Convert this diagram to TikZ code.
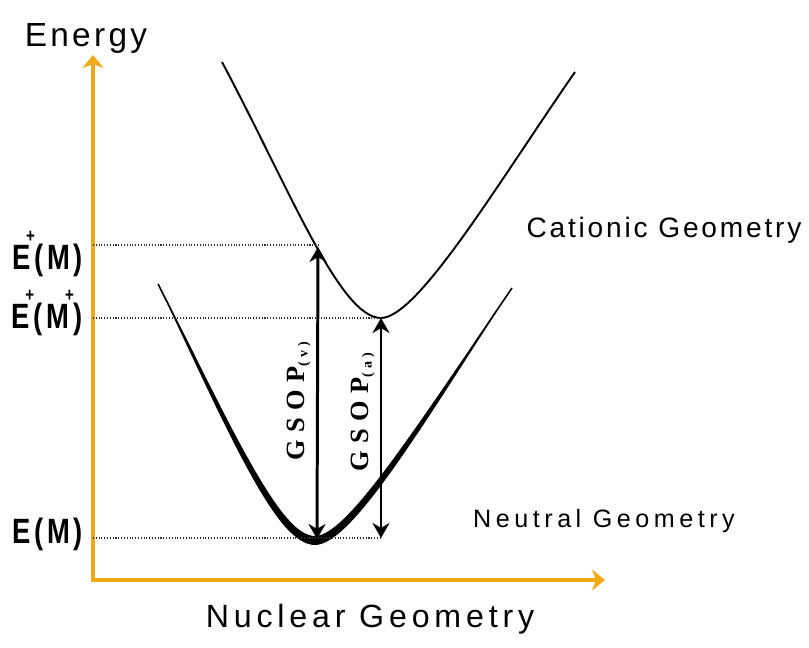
\documentclass[tikz,border=0pt]{standalone}
\usepackage{fontspec}
\setmainfont{Liberation Serif}
\newfontfamily\labelfont{Liberation Sans}
\newfontfamily\levelfont{Liberation Sans}[FakeStretch=0.78,LetterSpace=10]
\newfontfamily\gsopfont{Liberation Serif}[LetterSpace=28]
\usetikzlibrary{arrows.meta}
\definecolor{axisorange}{RGB}{240,168,20}
% superscript plus on the level labels
\newcommand{\lvlplus}{\raisebox{0.78em}{\kern-0.12em\fontsize{11}{11}\selectfont+\kern-0.02em}}
\begin{document}
\begin{tikzpicture}[
                x=0.02cm, y=-0.02cm,
                axisline/.style={
                    draw=axisorange,
                    line width=2.6pt,
                    line join=miter,
                    {Stealth[length=0.26cm,width=0.42cm,inset=0.08cm]}-{Stealth[length=0.26cm,width=0.42cm,inset=0.08cm]}
                },
                levelline/.style={
                    draw=black!80,
                    densely dotted,
                    line width=0.6pt
                },
                gsoparrow/.style={
                    line width=1.7pt,
                    {Stealth[length=0.3cm,width=0.34cm]}-{Stealth[length=0.3cm,width=0.34cm]}
                },
                axistext/.style={
                    font=\labelfont,
                    anchor=base,
                    inner sep=0pt
                },
                leveltext/.style={
                    font=\levelfont\bfseries\fontsize{20}{20}\selectfont,
                    anchor=base east,
                    inner sep=0pt
                },
                gsoptext/.style={
                    font=\gsopfont\bfseries\fontsize{15}{15}\selectfont,
                    rotate=90,
                    inner sep=0pt
                }
            ]
    \useasboundingbox (0,0) rectangle (809,648);

    % axes
    \coordinate (origin) at (93,580);
    \coordinate (ytip) at (93,55);
    \coordinate (xtip) at (605,580);
    \draw[axisline] (ytip) -- (origin) -- (xtip);

    \node[axistext] (energy) at (86,47)
        {\fontsize{19}{19}\selectfont\addfontfeatures{LetterSpace=10}Energy};
    \node[axistext] (nuclear) at (370,628)
        {\fontsize{18.3}{18.3}\selectfont\addfontfeatures{LetterSpace=15}Nuclear Geometry};
    \node[axistext] (cationic) at (664,238)
        {\fontsize{16}{16}\selectfont\addfontfeatures{LetterSpace=10}Cationic Geometry};
    \node[axistext] (neutral) at (604,528)
        {\fontsize{14.3}{14.3}\selectfont\addfontfeatures{LetterSpace=18}Neutral Geometry};

    % potential curves
    \fill (158,284) .. controls (240,445) and (282,536) .. (315,536)
          .. controls (348,536) and (420,420) .. (512,288)
          .. controls (424,423) and (352,545) .. (315,545)
          .. controls (278,545) and (235,448) .. (158,284) -- cycle;
    \draw[line width=0.9pt] (158,284) .. controls (240,445) and (280,540) .. (315,540)
          .. controls (350,540) and (421,421) .. (512,288);
    \draw[line width=1.1pt] (222,62) .. controls (290,190) and (340,318) .. (381,318)
          .. controls (418,318) and (500,180) .. (575,72);

    % energy levels
    \coordinate (cv) at (318,247);
    \coordinate (cmin) at (381,318);
    \coordinate (nmin) at (317,539);
    \coordinate (na) at (381,538);
    \coordinate (lv1) at (93,245);
    \coordinate (lv2) at (93,318);
    \coordinate (lv3) at (93,538);
    \draw[levelline] (lv1) -- (cv |- lv1);
    \draw[levelline] (lv2) -- (cmin);
    \draw[levelline] (lv3) -- (na);

    \node[leveltext] (eplusm) at (83,270) {E\lvlplus(M)};
    \node[leveltext] (eplusmplus) at (83,329) {E\lvlplus(M\lvlplus)};
    \node[leveltext] (em) at (83,544) {E(M)};

    % GSOP arrows
    \draw[gsoparrow] (nmin) -- (cv);
    \draw[gsoparrow] (na) -- (cmin);
    \node[gsoptext] (gsopv) at (299,401) {GSOP\raisebox{-0.1em}{\fontsize{8}{8}\selectfont(v)}};
    \node[gsoptext] (gsopa) at (363,412) {GSOP\raisebox{-0.1em}{\fontsize{8}{8}\selectfont(a)}};
\end{tikzpicture}
\end{document}
